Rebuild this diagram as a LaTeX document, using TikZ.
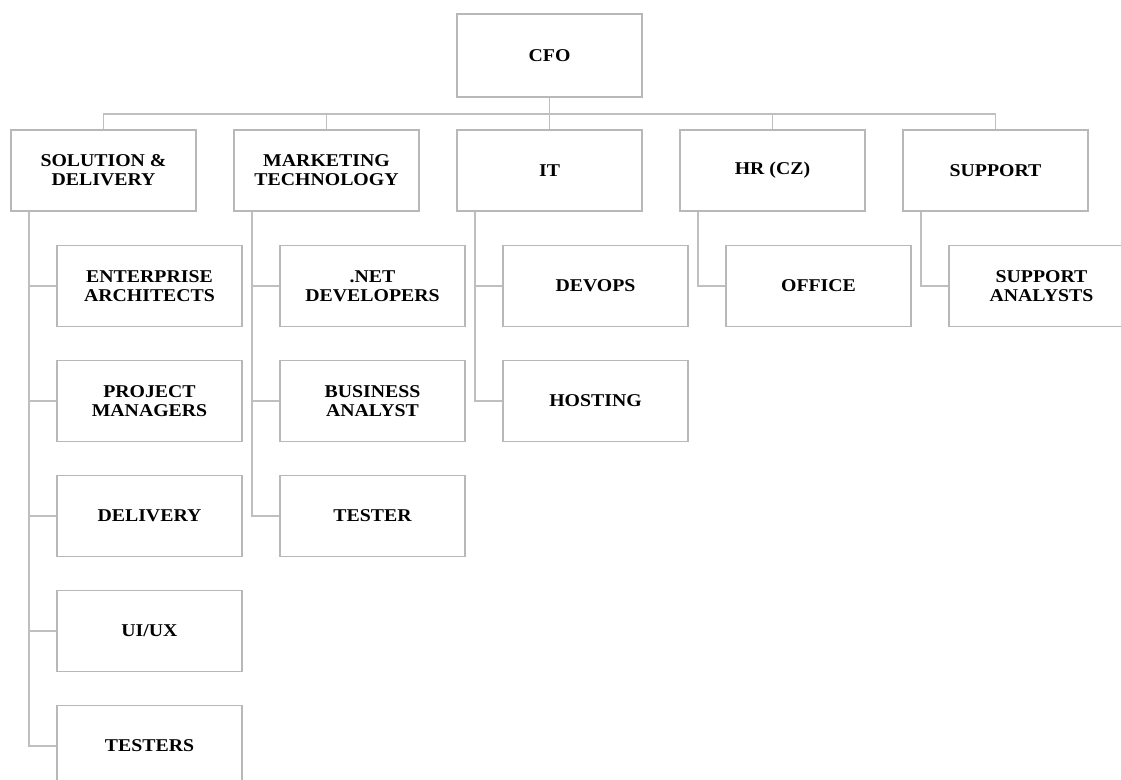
\documentclass[tikz,border=0pt]{standalone}
\usepackage{fontspec}
\setmainfont{Liberation Serif}[FakeStretch=1.1]

\tikzset{
  unit/.style={draw=black!28, line width=1.1pt, fill=white, inner sep=0pt,
    minimum width=138.75pt, minimum height=61pt, align=center,
    font=\bfseries\fontsize{13.5}{14.3}\selectfont},
  link/.style={draw=black!25, line width=1.2pt}
}

\begin{document}
\begin{tikzpicture}[x=0.75pt,y=-0.75pt]
% frame of the page
\useasboundingbox (0,0) rectangle (1121,780);
\clip (0,0) rectangle (1121,780);
% top
\node[unit, minimum height=62.25pt] (cfo) at (549.5,55.5) {CFO};
\coordinate (bus) at (549.5,114);
\draw[link] (cfo) -- (bus);
% departments
\foreach \i/\name/\txt in {0/sol/{SOLUTION \&\\DELIVERY},1/mkt/{MARKETING\\TECHNOLOGY},2/it/IT,3/hr/HR (CZ),4/sup/SUPPORT} {
  \node[unit] (\name) at (103.5+223*\i,170.5) {\txt};
  \draw[link] (bus) -| (\name.north);
}
% teams
\foreach \i/\dep/\j/\name/\txt in {0/sol/0/ea/{ENTERPRISE\\ARCHITECTS},0/sol/1/pm/{PROJECT\\MANAGERS},0/sol/2/del/DELIVERY,0/sol/3/ux/{UI/UX},0/sol/4/tst/TESTERS,
  1/mkt/0/net/{.NET\\DEVELOPERS},1/mkt/1/ba/{BUSINESS\\ANALYST},1/mkt/2/tes/TESTER,
  2/it/0/dev/DEVOPS,2/it/1/host/HOSTING,
  3/hr/0/off/OFFICE,
  4/sup/0/an/{SUPPORT\\ANALYSTS}} {
  \node[unit] (\name) at (149.5+223*\i,286+115*\j) {\txt};
  \draw[link] ([xshift=14.25pt]\dep.south west) |- (\name.west);
}
\end{tikzpicture}
\end{document}
